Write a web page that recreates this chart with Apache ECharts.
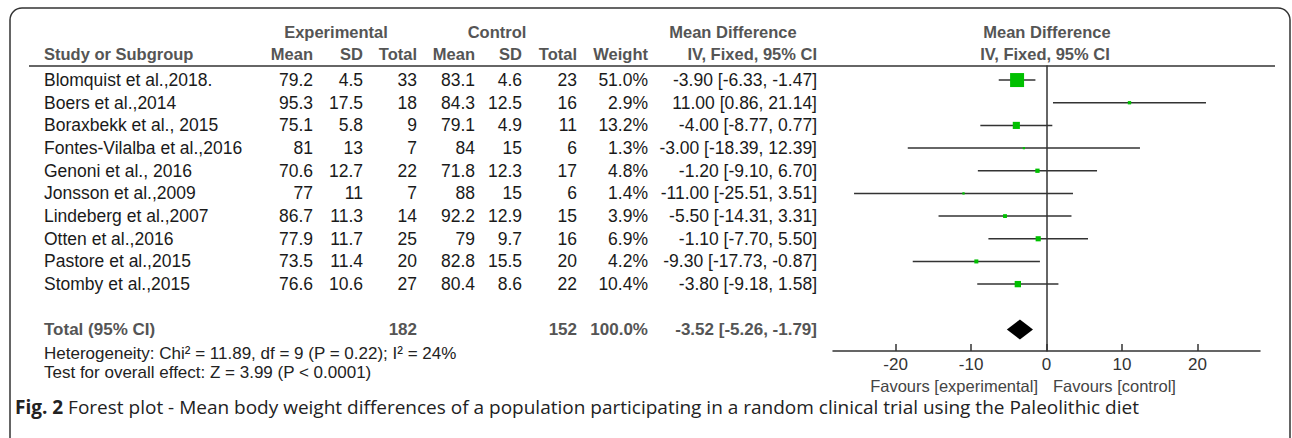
<!DOCTYPE html>
<html>
<head>
<meta charset="utf-8">
<script src="https://cdn.jsdelivr.net/npm/echarts@6/dist/echarts.min.js"></script>
<style>
  html, body { margin: 0; padding: 0; background: #fff; }
  #main { width: 1292px; height: 438px; }
</style>
</head>
<body>
<div id="main"></div>
<script>
; (function () {
  // data
  var studies = ['Blomquist et al.,2018.', 'Boers et al.,2014', 'Boraxbekk et al., 2015', 'Fontes-Vilalba et al.,2016',
    'Genoni et al., 2016', 'Jonsson et al.,2009', 'Lindeberg et al.,2007', 'Otten et al.,2016',
    'Pastore et al.,2015', 'Stomby et al.,2015'];
  var expMean = [79.2, 95.3, 75.1, 81, 70.6, 77, 86.7, 77.9, 73.5, 76.6];
  var expSD = [4.5, 17.5, 5.8, 13, 12.7, 11, 11.3, 11.7, 11.4, 10.6];
  var expTotal = [33, 18, 9, 7, 22, 7, 14, 25, 20, 27];
  var ctlMean = [83.1, 84.3, 79.1, 84, 71.8, 88, 92.2, 79, 82.8, 80.4];
  var ctlSD = [4.6, 12.5, 4.9, 15, 12.3, 15, 12.9, 9.7, 15.5, 8.6];
  var ctlTotal = [23, 16, 11, 6, 17, 6, 15, 16, 20, 22];
  var weight = [51.0, 2.9, 13.2, 1.3, 4.8, 1.4, 3.9, 6.9, 4.2, 10.4];
  var meanDiff = [-3.90, 11.00, -4.00, -3.00, -1.20, -11.00, -5.50, -1.10, -9.30, -3.80];
  var ciLow = [-6.33, 0.86, -8.77, -18.39, -9.10, -25.51, -14.31, -7.70, -17.73, -9.18];
  var ciHigh = [-1.47, 21.14, 0.77, 12.39, 6.70, 3.51, 3.31, 5.50, -0.87, 1.58];
  var totalN = [182, 152];
  var totalWeight = 100.0;
  var totalMD = [-3.52, -5.26, -1.79];   // estimate, low, high
  var xTicks = [-20, -10, 0, 10, 20];
  var heterogeneity = 'Heterogeneity: Chi\u00b2 = 11.89, df = 9 (P = 0.22); I\u00b2 = 24%';
  var overallTest = 'Test for overall effect: Z = 3.99 (P < 0.0001)';
  var caption = 'Forest plot - Mean body weight differences of a population participating in a random clinical trial using the Paleolithic diet';

  var totalRowPos = studies.length + 1;

  var FONT = '"Liberation Sans", Arial, sans-serif';
  var CAPFONT = '"Open Sans", "Noto Sans", sans-serif';
  var bodyFont = '17.5px ' + FONT;
  var headFont = 'bold 16.5px ' + FONT;
  var totalFont = 'bold 17px ' + FONT;
  var headColor = '#555';
  var textColor = '#1a1a1a';
  var lineColor = '#333';

  var byId = function (id) {
    return document.getElementById(id);
  };

  var fmtCI = function (m, lo, hi) {
    return m.toFixed(2) + ' [' + lo.toFixed(2) + ', ' + hi.toFixed(2) + ']';
  };

  // right edges of the table columns
  var colX = { name: 44, expMean: 313, expSD: 363, expN: 417, ctlMean: 475, ctlSD: 522, ctlN: 577, weight: 648, ci: 817 };

  var cell = function (text, x, y, align, font, color) {
    return {
      type: 'text', x: x, y: y,
      style: { text: String(text), font: font, fill: color, textAlign: align, textVerticalAlign: 'middle' }
    };
  };

  // table rows, y taken from the plot's y scale
  var tableData = studies.map(function (s, i) { return [0, i, i]; });
  tableData.push([0, totalRowPos, -1]);

  var renderTable = function (params, api) {
    var pos = api.value(1);
    var i = api.value(2);
    var y = api.coord([0, pos])[1];
    var kids;
    if (i < 0) {
      kids = [
        cell('Total (95% CI)', colX.name, y, 'left', totalFont, headColor),
        cell(totalN[0], colX.expN, y, 'right', totalFont, headColor),
        cell(totalN[1], colX.ctlN, y, 'right', totalFont, headColor),
        cell(totalWeight.toFixed(1) + '%', colX.weight, y, 'right', totalFont, headColor),
        cell(fmtCI(totalMD[0], totalMD[1], totalMD[2]), colX.ci, y, 'right', totalFont, headColor)
      ];
    } else {
      kids = [
        cell(studies[i], colX.name, y, 'left', bodyFont, textColor),
        cell(expMean[i], colX.expMean, y, 'right', bodyFont, textColor),
        cell(expSD[i], colX.expSD, y, 'right', bodyFont, textColor),
        cell(expTotal[i], colX.expN, y, 'right', bodyFont, textColor),
        cell(ctlMean[i], colX.ctlMean, y, 'right', bodyFont, textColor),
        cell(ctlSD[i], colX.ctlSD, y, 'right', bodyFont, textColor),
        cell(ctlTotal[i], colX.ctlN, y, 'right', bodyFont, textColor),
        cell(weight[i].toFixed(1) + '%', colX.weight, y, 'right', bodyFont, textColor),
        cell(fmtCI(meanDiff[i], ciLow[i], ciHigh[i]), colX.ci, y, 'right', bodyFont, textColor)
      ];
    }
    return { type: 'group', children: kids };
  };

  // CI whiskers + weighted squares
  var ciData = studies.map(function (s, i) { return [ciLow[i], ciHigh[i], meanDiff[i], i, weight[i]]; });
  var renderCI = function (params, api) {
    var a = api.coord([api.value(0), api.value(3)]);
    var b = api.coord([api.value(1), api.value(3)]);
    var c = api.coord([api.value(2), api.value(3)]);
    var size = Math.max(2, 1.96 * Math.sqrt(api.value(4)));
    return {
      type: 'group',
      children: [{
        type: 'line',
        shape: { x1: a[0], y1: a[1], x2: b[0], y2: b[1] },
        style: { stroke: lineColor, lineWidth: 1.5 }
      }, {
        type: 'rect',
        shape: { x: c[0] - size / 2, y: c[1] - size / 2, width: size, height: size },
        style: { fill: '#00c000' }
      }]
    };
  };

  // pooled diamond
  var renderDiamond = function (params, api) {
    var pos = api.value(3);
    var lo = api.coord([api.value(1), pos]);
    var mid = api.coord([api.value(0), pos]);
    var hi = api.coord([api.value(2), pos]);
    var h = 10;
    return {
      type: 'polygon',
      shape: { points: [[lo[0], lo[1]], [mid[0], mid[1] - h], [hi[0], hi[1]], [mid[0], mid[1] + h]] },
      style: { fill: '#000' }
    };
  };

  var hText = function (text, x, y, align) {
    return { type: 'text', x: x, y: y, silent: true,
      style: { text: text, font: headFont, fill: headColor, textAlign: align, textVerticalAlign: 'middle' } };
  };
  var pText = function (text, x, y, align, font, color) {
    return { type: 'text', x: x, y: y, silent: true,
      style: { text: text, font: font, fill: color, textAlign: align, textVerticalAlign: 'middle' } };
  };

  var chart = echarts.init(byId('main'), null, { renderer: 'svg' });
  var option = {
    animation: false,
    backgroundColor: '#fff',
    grid: { left: 833, right: 32, top: 66, bottom: 87, outerBoundsMode: 'none' },
    xAxis: {
      type: 'value',
      min: -28.3,
      max: 28.3,
      axisLine: { onZero: false, lineStyle: { color: lineColor, width: 1.5 } },
      axisTick: { inside: true, length: 7, customValues: xTicks, lineStyle: { color: lineColor, width: 1.5 } },
      axisLabel: { customValues: xTicks, fontSize: 17, fontFamily: FONT, color: '#333', margin: 5 },
      splitLine: { show: false }
    },
    yAxis: {
      type: 'value',
      inverse: true,
      min: -0.62,
      max: 11.95,
      axisLine: { show: true, onZero: true, lineStyle: { color: lineColor, width: 1.5 } },
      axisTick: { show: false },
      axisLabel: { show: false },
      splitLine: { show: false }
    },
    graphic: [
      { type: 'rect', silent: true, z: -1, shape: { x: 10, y: 8, width: 1280, height: 460, r: 12 },
        style: { fill: 'none', stroke: lineColor, lineWidth: 1.5 } },
      { type: 'line', silent: true, shape: { x1: 29, y1: 66, x2: 1275, y2: 66 },
        style: { stroke: lineColor, lineWidth: 1.5 } },
      hText('Experimental', 336, 32, 'center'),
      hText('Control', 497, 32, 'center'),
      hText('Mean Difference', 733, 32, 'center'),
      hText('Mean Difference', 1047, 32, 'center'),
      hText('Study or Subgroup', colX.name, 54, 'left'),
      hText('Mean', colX.expMean, 54, 'right'),
      hText('SD', colX.expSD, 54, 'right'),
      hText('Total', colX.expN, 54, 'right'),
      hText('Mean', colX.ctlMean, 54, 'right'),
      hText('SD', colX.ctlSD, 54, 'right'),
      hText('Total', colX.ctlN, 54, 'right'),
      hText('Weight', colX.weight, 54, 'right'),
      hText('IV, Fixed, 95% CI', colX.ci, 54, 'right'),
      hText('IV, Fixed, 95% CI', 1045, 54, 'center'),
      pText(heterogeneity, colX.name, 353, 'left', '17px ' + FONT, '#222'),
      pText(overallTest, colX.name, 372, 'left', '17px ' + FONT, '#222'),
      pText('Favours [experimental]', 1038, 386, 'right', '16.5px ' + FONT, '#444'),
      pText('Favours [control]', 1053, 386, 'left', '16.5px ' + FONT, '#444'),
      {
        type: 'text', x: 15, y: 407, silent: true,
        style: {
          text: '{b|Fig. 2} ' + caption,
          font: '19px ' + CAPFONT,
          fill: '#222', textAlign: 'left', textVerticalAlign: 'middle',
          rich: { b: { fontWeight: 'bold', fontSize: 19, fontFamily: CAPFONT, fill: '#222' } }
        }
      }
    ],
    series: [{
      name: 'table',
      type: 'custom',
      silent: true,
      clip: false,
      renderItem: renderTable,
      data: tableData
    }, {
      name: 'studies',
      type: 'custom',
      silent: true,
      renderItem: renderCI,
      data: ciData,
      z: 3
    }, {
      name: 'total',
      type: 'custom',
      silent: true,
      renderItem: renderDiamond,
      data: [[totalMD[0], totalMD[1], totalMD[2], totalRowPos]],
      z: 3
    }]
  };
  chart.setOption(option);
})()
</script>
</body>
</html>
